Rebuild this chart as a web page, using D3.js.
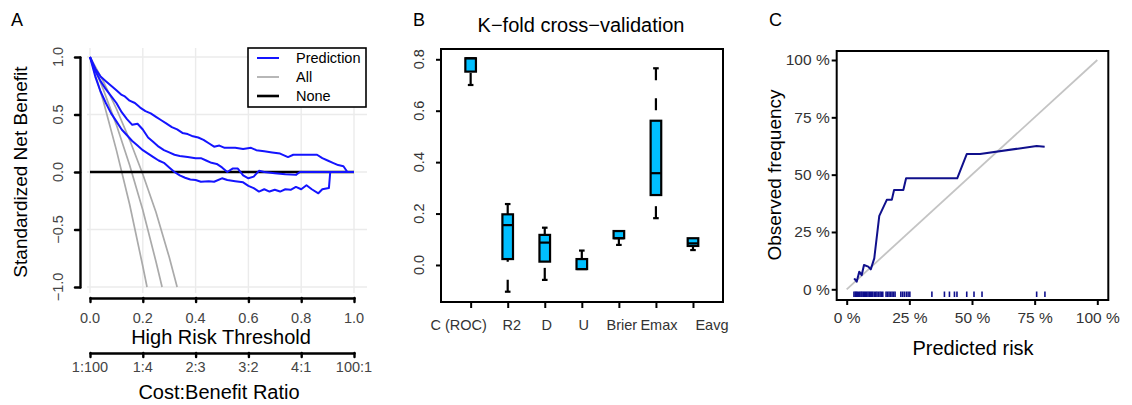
<!DOCTYPE html>
<html lang="en">
<head>
<meta charset="utf-8">
<title>Model validation panels</title>
<script src="https://d3js.org/d3.v7.min.js"></script>
<style>
  body { margin: 0; background: #fff; }
  text { font-family: "Liberation Sans", Arial, sans-serif; }
</style>
</head>
<body>
<script type="text/javascript">
// ---------- Panel A: decision curve ----------
var thresholdTicks = [0, 0.2, 0.4, 0.6, 0.8, 1.0];
var ratioLabels = ["1:100", "1:4", "2:3", "3:2", "4:1", "100:1"];
var netBenefitTicks = [-1, -0.5, 0, 0.5, 1];

var predUpper = [[0,1],[0.02,0.9],[0.04,0.83],[0.06,0.79],[0.08,0.75],[0.1,0.71],[0.12,0.67],[0.13,0.66],
  [0.15,0.62],[0.17,0.6],[0.19,0.56],[0.21,0.53],[0.23,0.51],[0.25,0.48],[0.27,0.45],[0.29,0.42],
  [0.31,0.39],[0.33,0.37],[0.35,0.34],[0.37,0.33],[0.39,0.31],[0.41,0.3],[0.43,0.28],[0.45,0.25],
  [0.47,0.22],[0.49,0.23],[0.51,0.21],[0.55,0.21],[0.58,0.2],[0.61,0.21],[0.63,0.19],[0.66,0.18],
  [0.69,0.17],[0.72,0.16],[0.75,0.13],[0.77,0.15],[0.8,0.15],[0.83,0.15],[0.86,0.15],[0.88,0.12],
  [0.9,0.1],[0.92,0.08],[0.94,0.06],[0.96,0.05],[0.975,0],[1.0,0]];
var predMid = [[0,1],[0.02,0.88],[0.04,0.79],[0.06,0.72],[0.08,0.66],[0.1,0.6],[0.12,0.52],[0.14,0.46],
  [0.16,0.41],[0.18,0.42],[0.2,0.37],[0.22,0.3],[0.24,0.26],[0.26,0.22],[0.28,0.19],[0.3,0.17],
  [0.32,0.15],[0.34,0.14],[0.37,0.13],[0.4,0.12],[0.42,0.12],[0.44,0.1],[0.46,0.08],[0.48,0.07],
  [0.5,0.04],[0.52,0.0],[0.54,0.03],[0.56,0.03],[0.58,-0.03],[0.6,-0.055],[0.62,-0.04],[0.64,0.01],
  [0.66,0.0],[0.7,-0.01],[0.74,-0.02],[0.78,-0.025],[0.795,0.0],[1.0,0]];
var predLower = [[0,1],[0.02,0.83],[0.04,0.7],[0.06,0.6],[0.08,0.51],[0.1,0.44],[0.12,0.37],[0.14,0.32],
  [0.16,0.27],[0.18,0.23],[0.2,0.19],[0.22,0.16],[0.24,0.13],[0.26,0.1],[0.28,0.08],[0.3,0.04],
  [0.32,0.0],[0.34,-0.03],[0.36,-0.05],[0.38,-0.065],[0.4,-0.07],[0.42,-0.085],[0.45,-0.08],
  [0.47,-0.085],[0.5,-0.055],[0.52,-0.07],[0.55,-0.08],[0.58,-0.09],[0.6,-0.12],[0.62,-0.14],
  [0.64,-0.17],[0.66,-0.15],[0.68,-0.17],[0.7,-0.155],[0.72,-0.17],[0.74,-0.15],[0.76,-0.155],
  [0.78,-0.13],[0.8,-0.15],[0.82,-0.115],[0.84,-0.15],[0.865,-0.185],[0.88,-0.15],[0.905,-0.14],
  [0.91,0],[1.0,0]];
var treatAll1 = [[0,1],[0.05,0.62],[0.1,0.19],[0.15,-0.28],[0.2,-0.82],[0.216,-1]];
var treatAll2 = [[0,1],[0.05,0.72],[0.1,0.41],[0.15,0.06],[0.2,-0.33],[0.25,-0.78],[0.273,-1]];
var treatAll3 = [[0,1],[0.05,0.79],[0.1,0.55],[0.15,0.28],[0.2,-0.02],[0.25,-0.35],[0.3,-0.74],[0.33,-1]];
var treatNone = [[0,0],[1,0]];

// ---------- Panel B: k-fold box plots ----------
var metrics = ["C (ROC)", "R2", "D", "U", "Brier", "Emax", "Eavg"];
var boxMin = [0.70, -0.104, -0.058, -0.016, 0.078, 0.182, 0.058];
var boxQ1  = [0.752, 0.023, 0.013, -0.016, 0.104, 0.272, 0.074];
var boxMed = [0.804, 0.155, 0.087, -0.016, 0.104, 0.357, 0.084];
var boxQ3  = [0.804, 0.197, 0.117, 0.023, 0.132, 0.561, 0.104];
var boxMax = [0.804, 0.237, 0.145, 0.056, 0.132, 0.765, 0.104];
var boxTicks = [0, 0.2, 0.4, 0.6, 0.8];

// ---------- Panel C: calibration ----------
var pctTicks = [0, 0.25, 0.5, 0.75, 1];
var calX = [0.030, 0.040, 0.050, 0.060, 0.069, 0.086, 0.096, 0.110, 0.130, 0.160, 0.180, 0.189,
  0.226, 0.237, 0.441, 0.479, 0.532, 0.758, 0.790];
var calY = [0.048, 0.033, 0.077, 0.062, 0.106, 0.099, 0.087, 0.135, 0.320, 0.390, 0.390, 0.433,
  0.433, 0.484, 0.484, 0.590, 0.590, 0.625, 0.622];
var rugRisk = [0.029, 0.034, 0.038, 0.042, 0.047, 0.052, 0.057, 0.061, 0.066, 0.071, 0.075, 0.080,
  0.085, 0.090, 0.095, 0.099, 0.104, 0.110, 0.116, 0.121, 0.127, 0.133, 0.138, 0.144,
  0.157, 0.163, 0.169, 0.175, 0.181, 0.187, 0.193, 0.216, 0.223, 0.230, 0.238, 0.245, 0.252,
  0.340, 0.390, 0.410, 0.430, 0.440, 0.479, 0.508, 0.540, 0.758, 0.791];

var W = 1132, H = 405;
var font = '"Liberation Sans", Arial, sans-serif';
var svg = d3.select("body").append("svg").attr("width", W).attr("height", H);

function label(x, y, txt, size, opts) {
  opts = opts || {};
  var t = svg.append("text").attr("x", x).attr("y", y).text(txt)
    .attr("font-size", size).attr("fill", opts.fill || "#000")
    .attr("text-anchor", opts.anchor || "middle");
  if (opts.rotate) t.attr("transform", "rotate(-90," + x + "," + y + ")");
  return t;
}

// ===== Panel A =====
var xA = d3.scaleLinear().domain([0, 1]).range([90, 354]);
var yA = d3.scaleLinear().domain([-1, 1]).range([287, 57]);
var gA = svg.append("g");

// grid
gA.selectAll("line.vg").data(thresholdTicks).enter().append("line")
  .attr("x1", xA).attr("x2", xA).attr("y1", 48).attr("y2", 293)
  .attr("stroke", "#ebebeb").attr("stroke-width", 1.4);
gA.selectAll("line.hg").data(netBenefitTicks).enter().append("line")
  .attr("x1", 87).attr("x2", 367).attr("y1", yA).attr("y2", yA)
  .attr("stroke", "#ebebeb").attr("stroke-width", 1.4);

var lineA = d3.line().x(function(d) { return xA(d[0]); }).y(function(d) { return yA(d[1]); });

[treatAll1, treatAll2, treatAll3].forEach(function(c) {
  gA.append("path").datum(c).attr("d", lineA).attr("fill", "none")
    .attr("stroke", "#aaaaaa").attr("stroke-width", 1.7);
});
gA.append("path").datum(treatNone).attr("d", lineA).attr("fill", "none")
  .attr("stroke", "#000").attr("stroke-width", 2.6);
[predUpper, predMid, predLower].forEach(function(c) {
  gA.append("path").datum(c).attr("d", lineA).attr("fill", "none")
    .attr("stroke", "#1414ff").attr("stroke-width", 2).attr("stroke-linejoin", "round");
});

// y axis
var yAxisA = gA.append("g").attr("transform", "translate(80,0)")
  .call(d3.axisLeft(yA).tickValues(netBenefitTicks).tickSize(5).tickSizeOuter(0).tickFormat(""));
yAxisA.selectAll("path, line").attr("stroke", "#000").attr("stroke-width", 2.4).attr("stroke-linecap", "round");
gA.selectAll("text.ytA").data(netBenefitTicks).enter().append("text")
  .attr("transform", function(d) { return "translate(63," + yA(d) + ") rotate(-90)"; })
  .attr("text-anchor", "middle").attr("font-size", 14.5).attr("fill", "#444")
  .text(function(d) { return d3.format(".1f")(d).replace("-", "\u2212"); });
label(27, 172, "Standardized Net Benefit", 19, { rotate: true });

// x axis (threshold)
var xAxisA = gA.append("g").attr("transform", "translate(0,298)")
  .call(d3.axisBottom(xA).tickValues(thresholdTicks).tickSize(4).tickSizeOuter(0).tickFormat(""));
xAxisA.selectAll("path, line").attr("stroke", "#000").attr("stroke-width", 2.4).attr("stroke-linecap", "round");
gA.selectAll("text.xtA").data(thresholdTicks).enter().append("text")
  .attr("x", xA).attr("y", 323).attr("text-anchor", "middle")
  .attr("font-size", 14.5).attr("fill", "#444")
  .text(function(d) { return d3.format(".1f")(d); });
label(221, 344, "High Risk Threshold", 20);

// cost:benefit axis
var xAxisA2 = gA.append("g").attr("transform", "translate(0,353)")
  .call(d3.axisBottom(xA).tickValues(thresholdTicks).tickSize(4).tickSizeOuter(0).tickFormat(""));
xAxisA2.selectAll("path, line").attr("stroke", "#000").attr("stroke-width", 2.4).attr("stroke-linecap", "round");
gA.selectAll("text.rt").data(thresholdTicks).enter().append("text")
  .attr("x", xA).attr("y", 372).attr("text-anchor", "middle")
  .attr("font-size", 14.5).attr("fill", "#444")
  .text(function(d, i) { return ratioLabels[i]; });
label(219, 399, "Cost:Benefit Ratio", 20);

// legend
var legItems = [["Prediction", "#1414ff", 2], ["All", "#aaaaaa", 1.7], ["None", "#000", 2.6]];
gA.append("rect").attr("x", 248).attr("y", 48).attr("width", 118).attr("height", 59)
  .attr("fill", "#fff").attr("stroke", "#000").attr("stroke-width", 1.6);
legItems.forEach(function(it, i) {
  var y = 58 + i * 19;
  gA.append("line").attr("x1", 257).attr("x2", 279).attr("y1", y).attr("y2", y)
    .attr("stroke", it[1]).attr("stroke-width", it[2]);
  gA.append("text").attr("x", 296).attr("y", y + 5).attr("font-size", 14.5).text(it[0]);
});
label(11, 26, "A", 18, { anchor: "start" });

// ===== Panel B =====
var xB = d3.scaleLinear().domain([0.2, 7.81]).range([441, 723]);
var yB = d3.scaleLinear().domain([-0.144, 0.84]).range([302, 49]);
var gB = svg.append("g");
var hw = 5.3;
var labelShift = [-12, 4, 2, 2, 3, 3, 19];

metrics.forEach(function(m, i) {
  var cx = xB(i + 1);
  // whiskers: dashed, drawn from the end toward the box
  [[boxMax[i], boxQ3[i]], [boxMin[i], boxQ1[i]]].forEach(function(w) {
    if (w[0] === w[1]) return;
    gB.append("line").attr("x1", cx).attr("x2", cx).attr("y1", yB(w[0])).attr("y2", yB(w[1]))
      .attr("stroke", "#000").attr("stroke-width", 2.2).attr("stroke-dasharray", "12,18");
    gB.append("line").attr("x1", cx - 2.8).attr("x2", cx + 2.8).attr("y1", yB(w[0])).attr("y2", yB(w[0]))
      .attr("stroke", "#000").attr("stroke-width", 2.2);
  });
  gB.append("rect").attr("x", cx - hw).attr("y", yB(boxQ3[i]))
    .attr("width", 2 * hw).attr("height", yB(boxQ1[i]) - yB(boxQ3[i]))
    .attr("fill", "#00bfff").attr("stroke", "#000").attr("stroke-width", 2.2);
  gB.append("line").attr("x1", cx - hw).attr("x2", cx + hw).attr("y1", yB(boxMed[i])).attr("y2", yB(boxMed[i]))
    .attr("stroke", "#000").attr("stroke-width", 2.2);
});

gB.append("rect").attr("x", 441).attr("y", 49).attr("width", 282).attr("height", 253)
  .attr("fill", "none").attr("stroke", "#000").attr("stroke-width", 2);
var yAxisB = gB.append("g").attr("transform", "translate(441,0)")
  .call(d3.axisLeft(yB).tickValues(boxTicks).tickSize(5).tickSizeOuter(0).tickFormat(""));
yAxisB.select(".domain").remove();
yAxisB.selectAll("line").attr("stroke", "#000").attr("stroke-width", 2);
gB.selectAll("text.ytB").data(boxTicks).enter().append("text")
  .attr("transform", function(d) { return "translate(424," + yB(d) + ") rotate(-90)"; })
  .attr("text-anchor", "middle").attr("font-size", 14.5).attr("fill", "#333")
  .text(function(d) { return d3.format(".1f")(d); });
var xAxisB = gB.append("g").attr("transform", "translate(0,302)")
  .call(d3.axisBottom(xB).tickValues(d3.range(1, 8)).tickSize(6).tickSizeOuter(0).tickFormat(""));
xAxisB.select(".domain").remove();
xAxisB.selectAll("line").attr("stroke", "#000").attr("stroke-width", 2);
gB.selectAll("text.xtB").data(metrics).enter().append("text")
  .attr("x", function(d, i) { return xB(i + 1) + labelShift[i]; }).attr("y", 330)
  .attr("text-anchor", "middle").attr("font-size", 14.5).attr("fill", "#333")
  .text(function(d) { return d; });
label(581, 32, "K\u2212fold cross\u2212validation", 20);
label(413, 26, "B", 18, { anchor: "start" });

// ===== Panel C =====
var xC = d3.scaleLinear().domain([0, 1]).range([846.7, 1097.3]);
var yC = d3.scaleLinear().domain([0, 1]).range([289.3, 60]);
var gC = svg.append("g");
var pct = function(d) { return Math.round(d * 100) + " %"; };

gC.append("line").attr("x1", xC(0)).attr("y1", yC(0)).attr("x2", xC(1)).attr("y2", yC(1))
  .attr("stroke", "#c4c4c4").attr("stroke-width", 1.8);
gC.append("path").datum(d3.zip(calX, calY))
  .attr("d", d3.line().x(function(d) { return xC(d[0]); }).y(function(d) { return yC(d[1]); }))
  .attr("fill", "none").attr("stroke", "#10108c").attr("stroke-width", 2).attr("stroke-linejoin", "round");
gC.selectAll("line.rug").data(rugRisk).enter().append("line")
  .attr("x1", xC).attr("x2", xC).attr("y1", 291.5).attr("y2", 297)
  .attr("stroke", "#10108c").attr("stroke-width", 1.6);

gC.append("rect").attr("x", 836.7).attr("y", 51).attr("width", 271.6).attr("height", 249)
  .attr("fill", "none").attr("stroke", "#000").attr("stroke-width", 2);
var yAxisC = gC.append("g").attr("transform", "translate(836.7,0)")
  .call(d3.axisLeft(yC).tickValues(pctTicks).tickSize(5).tickSizeOuter(0).tickFormat(pct).tickPadding(2));
yAxisC.select(".domain").remove();
yAxisC.selectAll("line").attr("stroke", "#000").attr("stroke-width", 2);
yAxisC.selectAll("text").attr("font-size", 15.5).attr("fill", "#333").attr("font-family", font);
var xAxisC = gC.append("g").attr("transform", "translate(0,300)")
  .call(d3.axisBottom(xC).tickValues(pctTicks).tickSize(5).tickSizeOuter(0).tickFormat(pct).tickPadding(7));
xAxisC.select(".domain").remove();
xAxisC.selectAll("line").attr("stroke", "#000").attr("stroke-width", 2);
xAxisC.selectAll("text").attr("font-size", 15.5).attr("fill", "#333").attr("font-family", font);
label(781, 175, "Observed frequency", 19, { rotate: true });
label(973, 355, "Predicted risk", 20);
label(769, 26, "C", 18, { anchor: "start" });
</script>
</body>
</html>
